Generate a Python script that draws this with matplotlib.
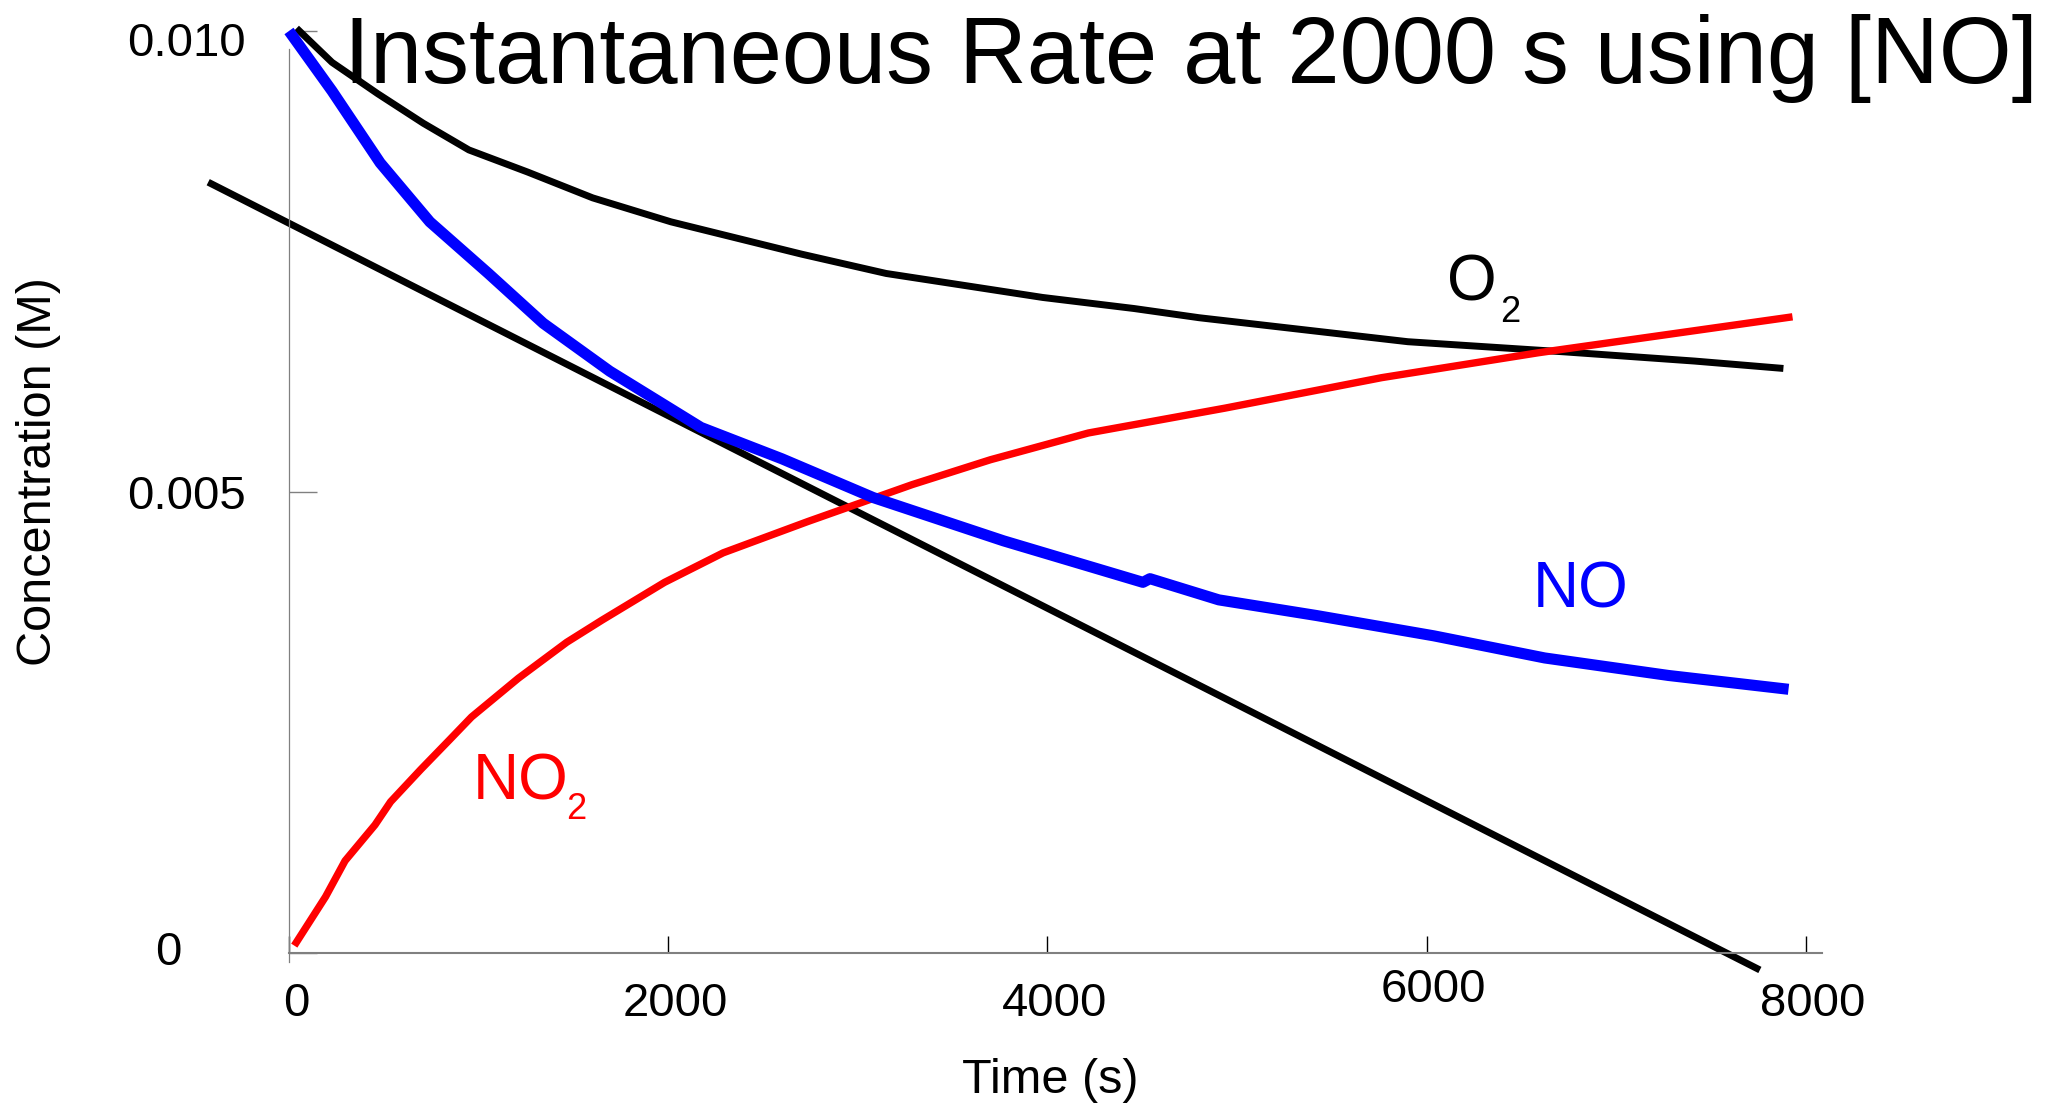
import matplotlib
matplotlib.use("Agg")
import matplotlib.pyplot as plt
from matplotlib.transforms import ScaledTranslation

plt.rcParams["font.family"] = ["Liberation Sans", "DejaVu Sans"]

# [NO] (blue)
NO_T = [0, 227, 481, 743, 1052, 1341, 1692, 2173, 2600, 3081, 3769, 4504, 4541, 4904, 5420, 6038, 6623, 7276, 7909]
NO_C = [0.01000, 0.00935, 0.00857, 0.00793, 0.00737, 0.00683, 0.00631, 0.00570, 0.00536, 0.00494,
        0.00447, 0.00402, 0.00406, 0.00383, 0.00366, 0.00344, 0.00320, 0.00301, 0.00286]

# [O2] (black)
O2_T = [40, 227, 468, 708, 949, 1259, 1602, 2015, 2290, 2703, 3150, 3563, 3975, 4457, 4801, 5351, 5901, 6726, 7414, 7882]
O2_C = [0.01003, 0.00966, 0.00932, 0.00900, 0.00871, 0.00847, 0.00819, 0.00793, 0.00779, 0.00758,
        0.00737, 0.00724, 0.00711, 0.00699, 0.00689, 0.00676, 0.00663, 0.00652, 0.00642, 0.00634]

# [NO2] (red)
NO2_T = [28, 193, 296, 454, 536, 695, 846, 963, 1210, 1465, 1651, 1981, 2290, 2737, 3287, 3700, 4216,
         4938, 5763, 6589, 7208, 7930]
NO2_C = [0.00008, 0.00061, 0.00100, 0.00139, 0.00164, 0.00199, 0.00231, 0.00256, 0.00298, 0.00337,
         0.00361, 0.00402, 0.00434, 0.00468, 0.00508, 0.00535, 0.00564, 0.00591, 0.00624, 0.00651,
         0.00669, 0.00690]

# tangent to [NO] at 2000 s
TANGENT_T = [-426, 7758]
TANGENT_C = [0.00836, -0.000184]

X_TICKS = [0, 2000, 4000, 6000, 8000]
X_TICK_LABELS = ["0", "2000", "4000", "6000", "8000"]
Y_TICKS = [0, 0.005, 0.010]
Y_TICK_LABELS = ["0", "0.005", "0.010"]

fig = plt.figure(figsize=(20.45, 11.03), dpi=100)
ax = fig.add_axes([0.1413, 0.1360, 0.7496, 0.8359])
ax.set_xlim(0, 8085)
ax.set_ylim(0, 0.0100)

ax.plot(TANGENT_T, TANGENT_C, color="black", lw=5, solid_capstyle="butt", clip_on=False)
ax.plot(O2_T, O2_C, color="black", lw=5, solid_capstyle="butt", clip_on=False)
ax.plot(NO2_T, NO2_C, color="#ff0000", lw=5.3, solid_capstyle="butt", clip_on=False)
ax.plot(NO_T, NO_C, color="#0000ff", lw=8, solid_capstyle="butt", clip_on=False)

# series labels
ax.text(6561, 0.003742, "NO", color="#0000ff", fontsize=46, ha="left", va="baseline")
ax.text(970, 0.00167, "NO", color="#ff0000", fontsize=46, ha="left", va="baseline")
ax.text(1460, 0.001453, "2", color="#ff0000", fontsize=26, ha="left", va="baseline")
ax.text(6110, 0.00708, "O", color="black", fontsize=46, ha="left", va="baseline")
ax.text(6390, 0.006844, "2", color="black", fontsize=26, ha="left", va="baseline")

fig.text(1191 / 2045, 1 - 83 / 1103, "Instantaneous Rate at 2000 s using [NO]",
         fontsize=67.5, ha="center", va="baseline")

# axes styling
for side in ["top", "right"]:
    ax.spines[side].set_visible(False)
ax.spines["left"].set_color("#808080")
ax.spines["left"].set_linewidth(0.9)
ax.spines["left"].set_bounds(-0.0001, 0.0098)
ax.spines["bottom"].set_color("#808080")
ax.spines["bottom"].set_linewidth(1.5)

ax.set_xticks(X_TICKS, labels=X_TICK_LABELS)
ax.set_yticks(Y_TICKS, labels=Y_TICK_LABELS)
ax.tick_params(axis="x", direction="in", length=12, width=1, color="black", pad=21, labelsize=34)
ax.tick_params(axis="y", direction="in", length=20, width=1, color="#808080", pad=31, labelsize=34)

ax.set_xlabel("Time (s)", fontsize=35)
ax.xaxis.set_label_coords(0.4964, -0.114)
ax.set_ylabel("Concentration (M)", fontsize=35)
ax.yaxis.set_label_coords(-0.149, 0.5217)


def nudge(label, dx_px, dy_px):
    label.set_transform(label.get_transform() + ScaledTranslation(dx_px / 100, dy_px / 100, fig.dpi_scale_trans))


xl = ax.get_xticklabels()
for i, lab in enumerate(xl):
    nudge(lab, 7, 14 if i == 3 else 0)
yl = ax.get_yticklabels()
nudge(yl[0], -64, 5)
nudge(yl[2], 0, -8)

fig.savefig("out.png", dpi=100)
